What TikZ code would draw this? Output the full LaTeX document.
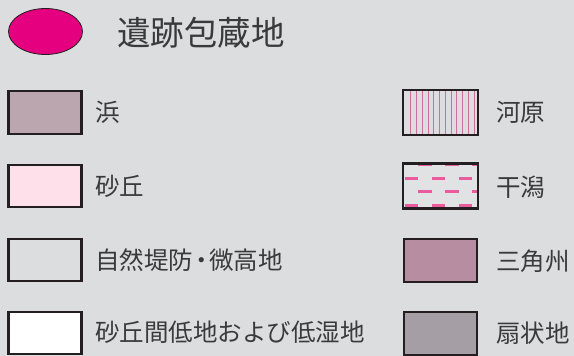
\documentclass[tikz,border=0pt]{standalone}
\usepackage{fontspec}
\newfontfamily\cjk{Noto Sans CJK JP}
\usetikzlibrary{shapes.geometric}

\definecolor{paper}{HTML}{DCDDDF}
\definecolor{boxline}{HTML}{231F20}
\definecolor{inktext}{HTML}{3A3A3A}
\definecolor{isekicol}{HTML}{E5007F}
\definecolor{hamacol}{HTML}{BBA5AF}
\definecolor{sakyucol}{HTML}{FDE0EA}
\definecolor{kawaracol}{HTML}{DDDDE0}
\definecolor{kawaraline}{HTML}{CC6E9F}
\definecolor{higatacol}{HTML}{E1E2E4}
\definecolor{higatadash}{HTML}{EA5A9D}
\definecolor{deltacol}{HTML}{B78DA1}
\definecolor{senjocol}{HTML}{A59EA4}

\begin{document}
\begin{tikzpicture}[x=1pt, y=-1pt,
    keybox/.style={draw=boxline, line width=2.4pt, rectangle,
      minimum width=73pt, minimum height=42.5pt, inner sep=0pt},
    keytext/.style={anchor=west, inner sep=0pt, text=inktext,
      font=\cjk\fontsize{24.5}{26}\selectfont}]
    \fill[paper] (0,0) rectangle (574,356);
    \useasboundingbox (0,0) rectangle (574,356);

    % left column
    \coordinate (L1) at (45,112.5);
    \coordinate (L2) at (45,186);
    \coordinate (L3) at (45,260);
    \coordinate (L4) at (45,333);
    % right column
    \coordinate (R1) at (440.5,112.5);
    \coordinate (R2) at (440.5,186);
    \coordinate (R3) at (440.5,260.5);
    \coordinate (R4) at (440.5,333.5);

    \node[ellipse, draw=boxline, line width=0.8pt, fill=isekicol,
      minimum width=74pt, minimum height=46pt, inner sep=0pt] (iseki) at (45.5,31.5) {};
    \node[anchor=west, inner sep=0pt, text=inktext,
      font=\cjk\fontsize{33.5}{36}\selectfont] (isekilabel) at (117,32.5) {遺跡包蔵地};

    \node[keybox, fill=hamacol] (hama) at (L1) {};
    \node[keybox, fill=sakyucol] (sakyu) at (L2) {};
    \node[keybox, fill=paper] (shizen) at (L3) {};
    \node[keybox, fill=white] (kanchi) at (L4) {};

    \node[keytext] (hamalabel) at (95,112) {浜};
    \node[keytext] (sakyulabel) at (95,186) {砂丘};
    \node[keytext] (shizenlabel) at (95,260) {自然堤防\kern-.17em・\kern-.17em微高地};
    \node[keytext] (kanchilabel) at (95,332.5) {砂丘間低地および低湿地};

    % hatched and dashed keys
    \node[keybox, draw=none, fill=kawaracol] (kawara) at (R1) {};
    \begin{scope}
        \clip (kawara.south west) rectangle (kawara.north east);
        \foreach \i in {0,...,11}
            \draw[kawaraline, line width=0.9pt] (410.7+5.78*\i,80) -- (410.7+5.78*\i,140);
    \end{scope}
    \draw[boxline, line width=2.4pt] (kawara.south west) rectangle (kawara.north east);

    \node[keybox, draw=none, fill=higatacol] (higata) at (R2) {};
    \begin{scope}
        \clip (higata.south west) rectangle (higata.north east);
        \foreach \yy in {178.7,205.6}
            \draw[higatadash, line width=2.8pt, dash pattern=on 13.5pt off 13.5pt] (404.5,\yy) -- (480,\yy);
        \foreach \yy in {164.8,191.8}
            \draw[higatadash, line width=2.8pt, dash pattern=on 13.5pt off 13.5pt] (418,\yy) -- (480,\yy);
    \end{scope}
    \draw[boxline, line width=2.4pt] (higata.south west) rectangle (higata.north east);

    \node[keybox, fill=deltacol] (delta) at (R3) {};
    \node[keybox, fill=senjocol] (senjo) at (R4) {};

    \node[keytext] (kawaralabel) at (496,112) {河原};
    \node[keytext] (higatalabel) at (496,187) {干潟};
    \node[keytext] (deltalabel) at (496,261) {三角州};
    \node[keytext] (senjolabel) at (496,333.5) {扇状地};
\end{tikzpicture}
\end{document}
